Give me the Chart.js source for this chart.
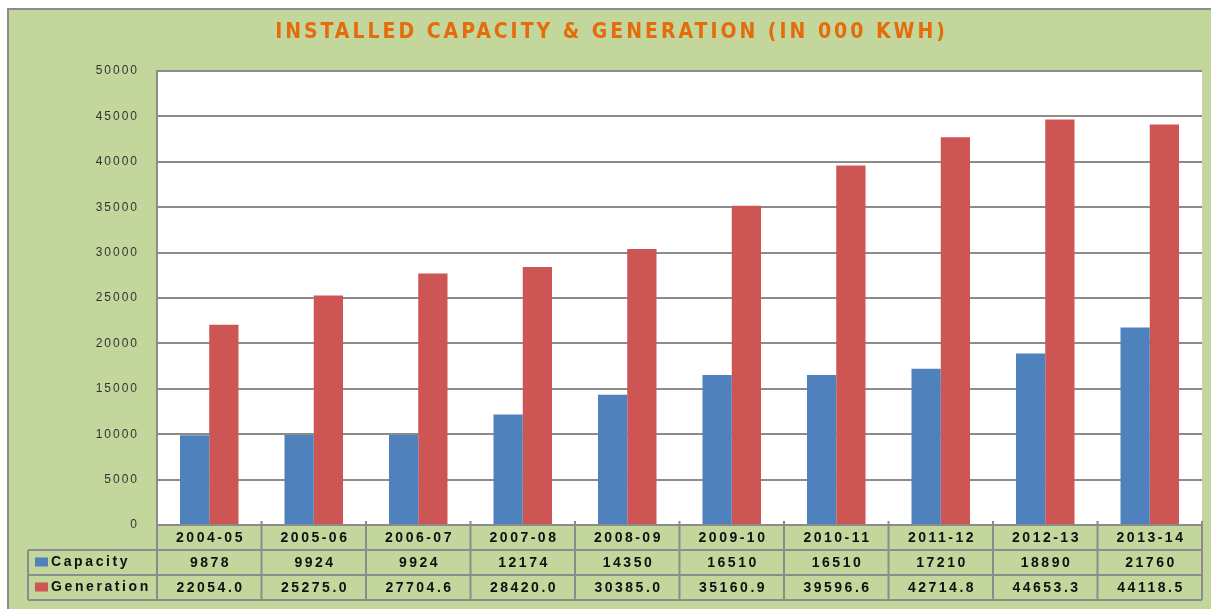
<!DOCTYPE html>
<html>
<head>
<meta charset="utf-8">
<script src="https://cdn.jsdelivr.net/npm/chart.js@4/dist/chart.umd.min.js"></script>
<style>
  body { margin: 0; background: #fff; }
  #wrap { width: 1211px; height: 609px; position: relative; }
</style>
</head>
<body>
<div id="wrap"><canvas id="myChart"></canvas></div>
<script>
const chartTitle = 'INSTALLED CAPACITY & GENERATION (IN 000 KWH)'
const years = ['2004-05', '2005-06', '2006-07', '2007-08', '2008-09', '2009-10', '2010-11', '2011-12', '2012-13', '2013-14']
const capacity = [9878, 9924, 9924, 12174, 14350, 16510, 16510, 17210, 18890, 21760]
const generation = [22054.0, 25275.0, 27704.6, 28420.0, 30385.0, 35160.9, 39596.6, 42714.8, 44653.3, 44118.5]
const seriesNames = ['Capacity', 'Generation']

const green = '#c3d69b'
const lineGray = '#8c8c8c'
const blue = '#4f81bd'
const red = '#cd5654'

Chart.defaults.font.family = "'Liberation Sans', Arial, sans-serif"

function spacedText(ctx, text, x, y, spacing, align) {
    ctx.letterSpacing = spacing + 'px'
    ctx.textAlign = align
    let dx = align == 'center' ? spacing / 2 : 0
    ctx.fillText(text, x + dx, y)
}

const backgroundPlugin = {
    id: 'background',
    beforeDraw(chart) {
        let ctx = chart.ctx
        let area = chart.chartArea
        ctx.save()
        ctx.fillStyle = '#fff'
        ctx.fillRect(0, 0, chart.width, chart.height)
        ctx.fillStyle = green
        ctx.fillRect(8, 9, chart.width - 8, chart.height - 9)
        ctx.strokeStyle = lineGray
        ctx.lineWidth = 2
        ctx.beginPath()
        ctx.moveTo(8, chart.height)
        ctx.lineTo(8, 9)
        ctx.lineTo(chart.width, 9)
        ctx.stroke()
        ctx.fillStyle = '#fff'
        ctx.fillRect(area.left, area.top, area.right - area.left, area.bottom - area.top)
        ctx.restore()
        ctx.letterSpacing = '2px'
    }
}

const tablePlugin = {
    id: 'dataTable',
    afterDraw(chart) {
        let ctx = chart.ctx
        let area = chart.chartArea
        let xScale = chart.scales.x
        let colW = (area.right - area.left) / years.length
        let rowH = 25
        let top = area.bottom
        let legendLeft = 28

        ctx.save()
        // title
        ctx.fillStyle = '#e46c0a'
        ctx.font = "bold 21px 'Liberation Sans Narrow', 'DejaVu Sans Condensed', 'Liberation Sans', sans-serif"
        ctx.textBaseline = 'middle'
        spacedText(ctx, chartTitle, 610, 33, 3, 'center')

        // table lines
        ctx.strokeStyle = lineGray
        ctx.lineWidth = 2
        ctx.beginPath()
        ctx.moveTo(area.left, top)
        ctx.lineTo(area.right, top)
        for (let r = 1; r <= 3; r++) {
            ctx.moveTo(legendLeft, top + r * rowH)
            ctx.lineTo(area.right, top + r * rowH)
        }
        ctx.moveTo(legendLeft, top + rowH)
        ctx.lineTo(legendLeft, top + 3 * rowH)
        for (let i = 0; i <= years.length; i++) {
            let x = area.left + i * colW
            ctx.moveTo(x, top - 4)
            ctx.lineTo(x, top + 3 * rowH)
        }
        ctx.stroke()

        // cell text
        ctx.fillStyle = '#111'
        ctx.font = "bold 14px 'Liberation Sans', Arial, sans-serif"
        ctx.textBaseline = 'middle'
        years.forEach((year, i) => {
            let cx = xScale.getPixelForValue(i)
            spacedText(ctx, year, cx, top + rowH / 2 + 1, 2.5, 'center')
            spacedText(ctx, String(capacity[i]), cx, top + rowH * 1.5 + 1, 2.5, 'center')
            spacedText(ctx, generation[i].toFixed(1), cx, top + rowH * 2.5 + 1, 2.5, 'center')
        })

        // legend keys
        let keyColors = [blue, red]
        seriesNames.forEach((name, r) => {
            let cy = top + rowH * (1.5 + r)
            ctx.fillStyle = keyColors[r]
            ctx.fillRect(35, cy - 5, 13, 9)
            ctx.fillStyle = '#111'
            spacedText(ctx, name, 51, cy, 2.6, 'left')
        })
        ctx.restore()
    }
}

let ctx = document.getElementById('myChart')
let myChart = new Chart(ctx, {
    type: 'bar',
    data: {
        labels: years,
        datasets: [{
            label: seriesNames[0],
            data: capacity,
            backgroundColor: blue,
            barPercentage: 1,
            categoryPercentage: 0.56
        }, {
            label: seriesNames[1],
            data: generation,
            backgroundColor: red,
            barPercentage: 1,
            categoryPercentage: 0.56
        }]
    },
    options: {
        responsive: true,
        maintainAspectRatio: false,
        animation: false,
        layout: {
            padding: { left: 0, right: 9, top: 71, bottom: 84 }
        },
        plugins: {
            legend: { display: false },
            title: { display: false },
            tooltip: { enabled: false }
        },
        scales: {
            x: {
                display: false
            },
            y: {
                min: 0,
                max: 50000,
                afterFit: function(scale) {
                    scale.width = 157
                },
                ticks: {
                    stepSize: 5000,
                    padding: 18,
                    color: '#333',
                    font: { size: 12 },
                    callback: value => String(value)
                },
                grid: {
                    color: lineGray,
                    lineWidth: 2,
                    drawTicks: false
                },
                border: {
                    color: lineGray,
                    width: 2
                }
            }
        }
    },
    plugins: [backgroundPlugin, tablePlugin]
})
</script>
</body>
</html>
